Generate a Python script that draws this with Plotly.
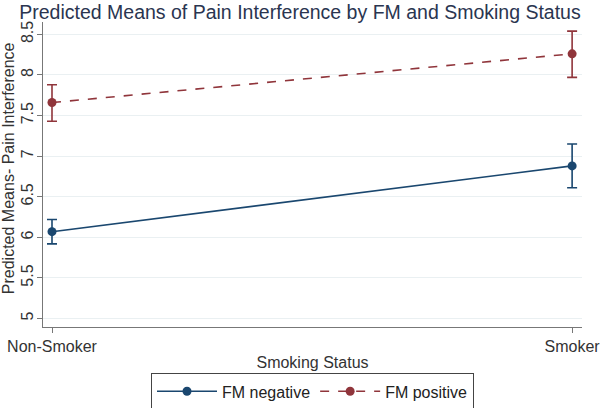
import plotly.graph_objects as go

categories = ["Non-Smoker", "Smoker"]
x_pos = [0, 1]
neg_mean = [6.07, 6.88]
neg_lo = [5.92, 6.61]
neg_hi = [6.22, 7.15]
pos_mean = [7.66, 8.26]
pos_lo = [7.43, 7.97]
pos_hi = [7.88, 8.54]
y_ticks = [5, 5.5, 6, 6.5, 7, 7.5, 8, 8.5]
y_tick_text = ["5", "5.5", "6", "6.5", "7", "7.5", "8", "8.5"]

navy = "#1a476f"
maroon = "#90353b"

fig = go.Figure()
for name, m, lo, hi, col, dash in [
    ("FM negative", neg_mean, neg_lo, neg_hi, navy, "solid"),
    ("FM positive", pos_mean, pos_lo, pos_hi, maroon, "dash"),
]:
    fig.add_trace(go.Scatter(
        x=x_pos, y=m, name=name, mode="lines+markers",
        line=dict(color=col, width=1.6, dash=dash),
        marker=dict(color=col, size=9),
        error_y=dict(type="data", symmetric=False,
                     array=[h - v for h, v in zip(hi, m)],
                     arrayminus=[v - l for v, l in zip(m, lo)],
                     color=col, thickness=1.6, width=5),
    ))

fig.update_layout(
    width=600, height=408,
    margin=dict(l=43, r=18, t=22, b=81, autoexpand=False),
    paper_bgcolor="white", plot_bgcolor="white",
    font=dict(family="Liberation Sans, Arial", color="#333333", size=16),
    title=dict(text="Predicted Means of Pain Interference by FM and Smoking Status",
               x=0.5, xanchor="center", xref="container", y=0.97, yanchor="middle",
               font=dict(size=19.5, color="#2a3550")),
    showlegend=True,
    legend=dict(orientation="h", x=0.5, xanchor="center", xref="paper",
                y=-0.152, yanchor="top", bordercolor="#444444", borderwidth=1,
                itemwidth=60, font=dict(size=16, color="#222222")),
    annotations=[dict(text="Predicted Means- Pain Interference", textangle=-90,
                      xref="paper", yref="paper", x=-0.0635, y=0.52,
                      xanchor="center", yanchor="middle", showarrow=False,
                      font=dict(size=16, color="#333333"))],
)
fig.update_xaxes(
    range=[-0.0173, 1.019], tickvals=x_pos, ticktext=categories,
    showgrid=False, zeroline=False, showline=True, linecolor="#777777",
    linewidth=1.2, ticks="outside", ticklen=5, tickcolor="#777777",
    automargin=False, ticklabeloverflow="allow",
    tickfont=dict(size=16), title=dict(text="Smoking Status", font=dict(size=16), standoff=2),
)
fig.update_yaxes(
    range=[4.896, 8.652], tickvals=y_ticks, ticktext=y_tick_text, tickangle=-90,
    showgrid=True, gridcolor="#eaf0f2", gridwidth=1, zeroline=False,
    showline=True, linecolor="#777777", linewidth=1.2, automargin=False,
    ticklabeloverflow="allow", ticklabelstandoff=-2,
    ticks="outside", ticklen=5, tickcolor="#777777", tickfont=dict(size=16),
)
fig.write_html("out.html", config={"displayModeBar": False},
               post_script="document.body.style.margin='0';document.body.style.padding='0';")
